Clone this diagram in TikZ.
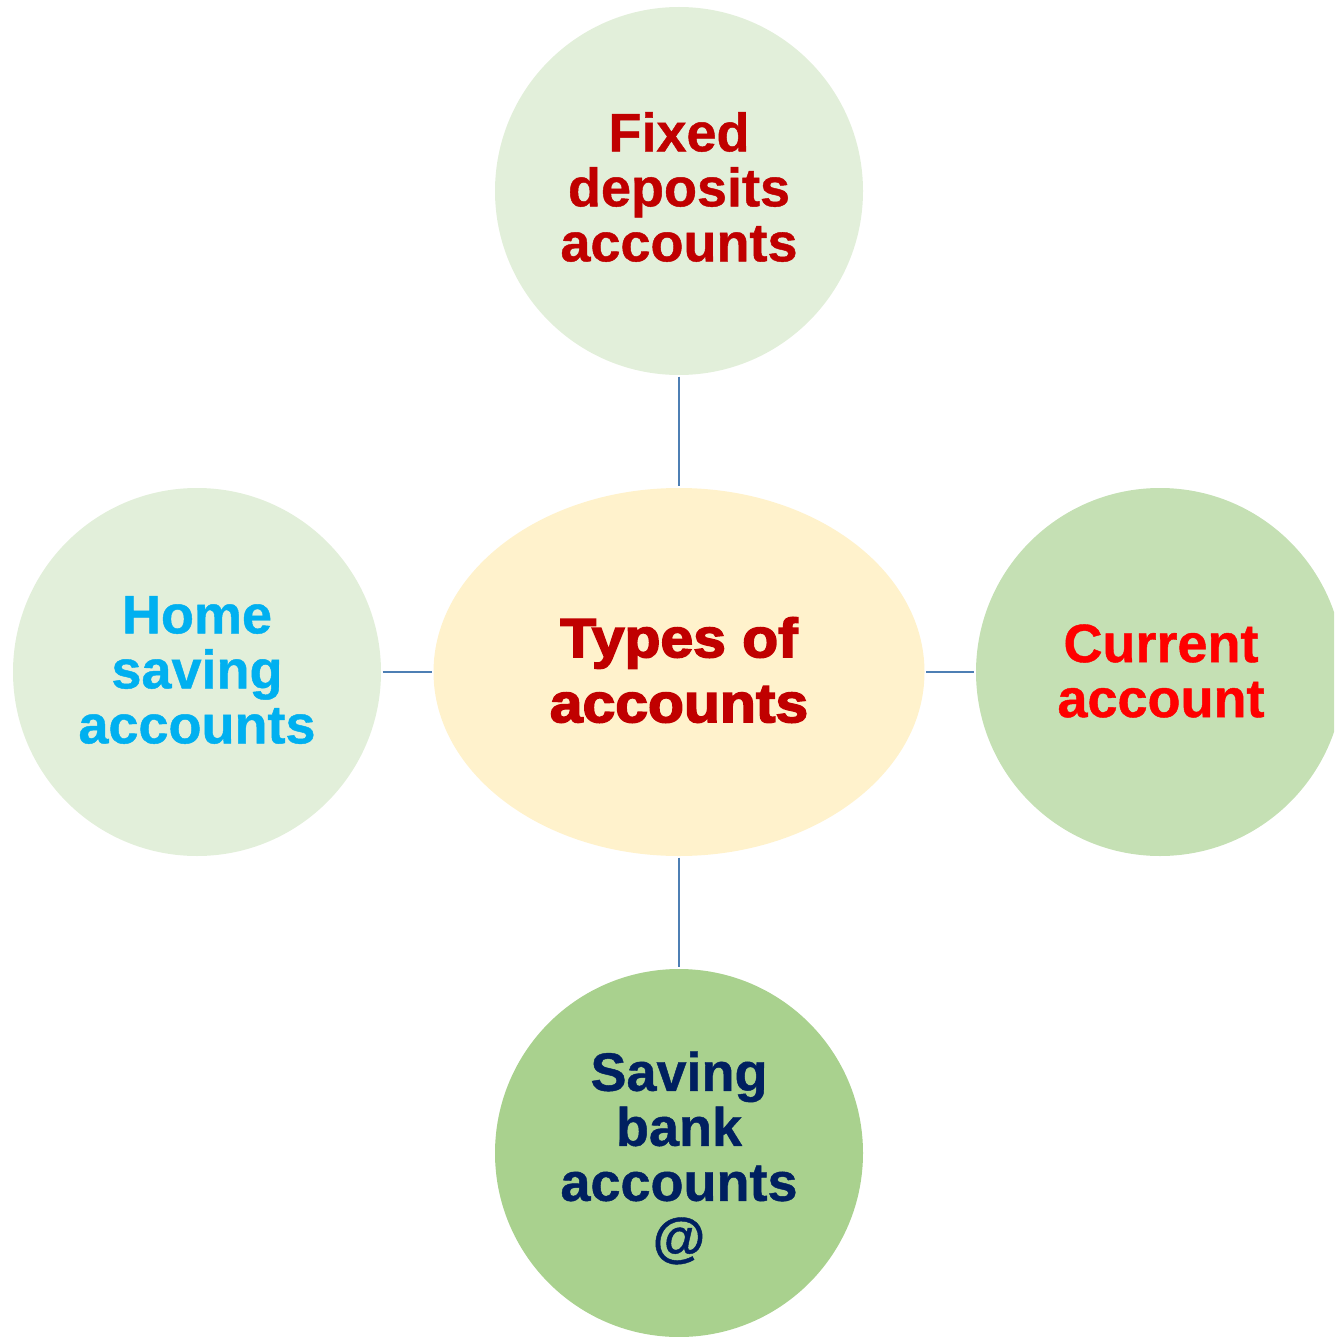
\documentclass[tikz,border=0pt]{standalone}
\usepackage{fontspec}
\setmainfont{Liberation Sans}[BoldFeatures={FakeBold=0.8}]
\newfontfamily\blackf{Liberation Sans}[BoldFeatures={FakeBold=3,FakeStretch=1.07}]
\usetikzlibrary{shapes.geometric}
\definecolor{lightgreen}{HTML}{E2EFDA}
\definecolor{midgreen}{HTML}{C5E0B4}
\definecolor{darkgreen}{HTML}{A9D18E}
\definecolor{paleyellow}{HTML}{FFF2CC}
\definecolor{linkblue}{HTML}{4E7FB4}
\definecolor{darkred}{HTML}{C00000}
\definecolor{brightred}{HTML}{FF0000}
\definecolor{skyblue}{HTML}{00B0F0}
\definecolor{navy}{HTML}{002060}
\begin{document}
\begin{tikzpicture}[x=1pt,y=-1pt,
  bubble/.style={circle,minimum size=368pt,inner sep=0pt,draw=none},
  hub/.style={ellipse,minimum width=491pt,minimum height=368pt,inner sep=0pt,draw=none,fill=paleyellow},
  outertext/.style={align=center,inner sep=0pt,font=\fontsize{54}{55}\selectfont\bfseries},
  hubtext/.style={align=center,inner sep=0pt,font=\fontsize{55}{65}\selectfont\blackf\bfseries},
  link/.style={draw=linkblue,line width=1.8pt,shorten <=1.5pt,shorten >=1.5pt}]
\useasboundingbox (0,0) rectangle (1334,1337);
\clip (0,0) rectangle (1334,1337);
\node[hub] (c) at (679,672) {};
\node[bubble,fill=lightgreen] (t) at (679,191) {};
\node[bubble,fill=lightgreen] (l) at (197,672) {};
\node[bubble,fill=midgreen] (r) at (1160,672) {};
\node[bubble,fill=darkgreen] (b) at (679,1153) {};
\draw[link] (t) -- (c);
\draw[link] (l) -- (c);
\draw[link] (c) -- (r);
\draw[link] (c) -- (b);
\node[hubtext,text=darkred] (ct) at (679,670) {Types of\\accounts};
\node[outertext,text=darkred] (tt) at (679,187) {Fixed\\deposits\\accounts};
\node[outertext,text=skyblue] (lt) at (197,670) {Home\\saving\\accounts};
\node[outertext,text=brightred] (rt) at (1161,671) {Current\\account};
\node[outertext,text=navy] (bt) at (679,1158) {Saving\\bank\\accounts\\@};
\end{tikzpicture}
\end{document}
